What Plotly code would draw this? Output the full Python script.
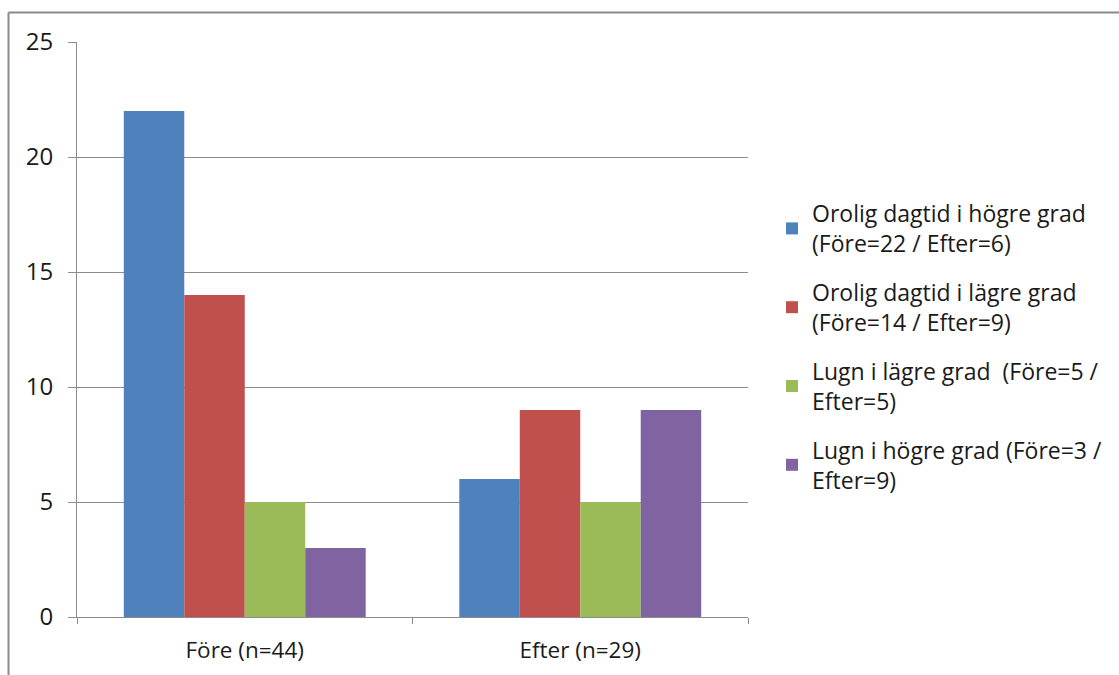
import plotly.graph_objects as go

categories = ["Före (n=44)", "Efter (n=29)"]
series_names = [
    "Orolig dagtid i högre grad<br>(Före=22 / Efter=6)",
    "Orolig dagtid i lägre grad<br>(Före=14 / Efter=9)",
    "Lugn i lägre grad  (Före=5 /<br>Efter=5)",
    "Lugn i högre grad (Före=3 /<br>Efter=9)",
]
orolig_hogre = [22, 6]
orolig_lagre = [14, 9]
lugn_lagre = [5, 5]
lugn_hogre = [3, 9]
colors = ["#4F81BD", "#C0504D", "#9BBB59", "#8064A2"]

FONT = "Open Sans"
TEXT = "#1a1a1a"
GRID = "#8C8C8C"

fig = go.Figure()
for i, (name, vals) in enumerate(zip(series_names,
                                     [orolig_hogre, orolig_lagre, lugn_lagre, lugn_hogre])):
    fig.add_trace(go.Bar(
        x=categories, y=vals, name=name,
        marker=dict(color=colors[i], line=dict(width=0)),
        legendgroup=f"g{i}",
    ))

W, H = 1119, 675
L, R, T, B = 77, 748, 42, 617
pw, ph = R - L, B - T

def px_x(x):
    return (x - L) / pw

def px_y(y):
    return (B - y) / ph

fig.update_layout(
    width=W, height=H,
    margin=dict(l=L, r=W - R, t=T, b=H - B, pad=0, autoexpand=False),
    paper_bgcolor="white", plot_bgcolor="white",
    barmode="group", bargap=0.279, bargroupgap=0,
    font=dict(family=FONT, size=22, color=TEXT),
    showlegend=True,
    legend=dict(
        x=px_x(772), xanchor="left",
        y=px_y(347), yanchor="middle",
        font=dict(family=FONT, size=23, color=TEXT),
        traceorder="grouped", tracegroupgap=16,
        itemwidth=30, bgcolor="rgba(0,0,0,0)",
    ),
    xaxis=dict(
        type="category", showline=True, linecolor=GRID, linewidth=1,
        ticks="outside", tickson="boundaries", ticklen=6, tickcolor=GRID,
        showgrid=False, tickfont=dict(family=FONT, size=22.5, color=TEXT),
        ticklabelstandoff=13, automargin=False,
    ),
    yaxis=dict(
        range=[0, 25], dtick=5, showline=True, linecolor=GRID, linewidth=1,
        ticks="outside", ticklen=8, tickcolor=GRID,
        showgrid=True, gridcolor=GRID, gridwidth=1, zeroline=False,
        tickfont=dict(family=FONT, size=24, color=TEXT),
        ticklabelstandoff=10, automargin=False,
    ),
    shapes=[
        dict(type="line", xref="paper", yref="paper",
             x0=px_x(8.5), x1=px_x(8.5), y0=px_y(700), y1=px_y(12.5),
             line=dict(color="#8A8A8A", width=2)),
        dict(type="line", xref="paper", yref="paper",
             x0=px_x(8.5), x1=px_x(1140), y0=px_y(12.5), y1=px_y(12.5),
             line=dict(color="#8A8A8A", width=2)),
    ],
)

fig.write_html("out.html")
